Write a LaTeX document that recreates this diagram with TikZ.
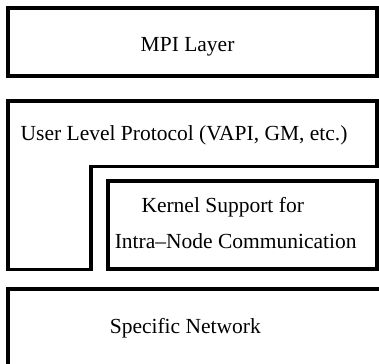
\documentclass[tikz,border=0pt]{standalone}
\usepackage{fontspec}
\setmainfont{Liberation Serif}
\begin{document}
\begin{tikzpicture}[x=1pt,y=-1pt,
  layer/.style={draw=black,line width=3.8pt,line join=miter},
  label/.style={anchor=base west,inner sep=0pt,font=\fontsize{21.5}{25}\selectfont}]
\useasboundingbox (0,0) rectangle (379,363);
\clip (0,0) rectangle (379,363);
% MPI layer
\draw[layer,line width=4pt] (8,8.5) rectangle (376.7,76);
\node[label] (mpi) at (140.5,51.7) {MPI Layer};
% user level protocol (L-shaped block)
\draw[layer] (8,101.3) -- (377,101.3) -- (377,166.5) -- (91.3,166.5)
  -- (91.3,269.5) -- (8,269.5) -- cycle;
\node[label] (ulp) at (20.5,140.7) {User Level Protocol (VAPI, GM, etc.)};
% kernel support block
\draw[layer] (108,181.3) rectangle (377,269.2);
\node[label] (ks1) at (141.3,212.3) {Kernel Support for};
\node[label] (ks2) at (114.6,248.3) {Intra–Node Communication};
% network layer, running past the frame
\draw[layer] (8,380) -- (8,289.3) -- (395,289.3) -- (395,380);
\node[label] (net) at (109.6,333) {Specific Network};
\end{tikzpicture}
\end{document}
